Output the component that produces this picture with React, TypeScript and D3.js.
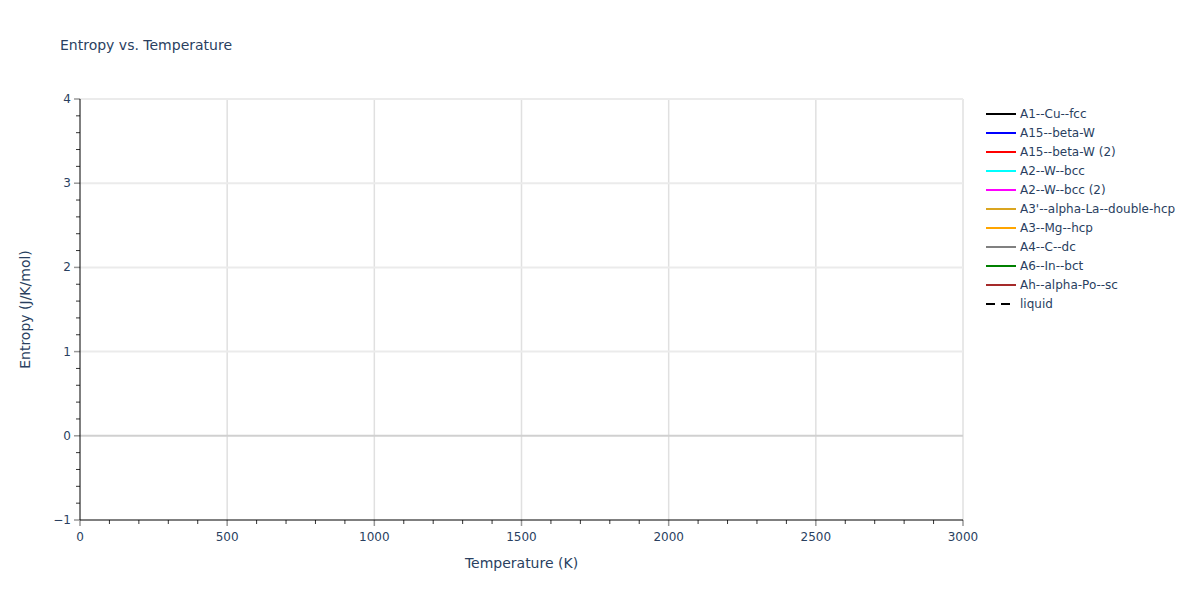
import React, { useRef, useEffect } from 'react';
import * as d3 from 'd3';

// Chart data (the reference shows no plotted values, only the legend entries)
const SERIES_NAMES = [
  'A1--Cu--fcc',
  'A15--beta-W',
  'A15--beta-W (2)',
  'A2--W--bcc',
  'A2--W--bcc (2)',
  "A3'--alpha-La--double-hcp",
  'A3--Mg--hcp',
  'A4--C--dc',
  'A6--In--bct',
  'Ah--alpha-Po--sc',
  'liquid',
];
const SERIES_COLORS = [
  'black', 'blue', 'red', 'cyan', 'magenta', 'goldenrod',
  'orange', 'gray', 'green', 'brown', 'black',
];
const SERIES_DASHED = [false, false, false, false, false, false, false, false, false, false, true];
const TEMPERATURES: number[] = [];
const ENTROPY_VALUES: number[][] = SERIES_NAMES.map(() => []);

const X_DOMAIN = [0, 3000];
const Y_DOMAIN = [-1, 4];
const X_TICKS = [0, 500, 1000, 1500, 2000, 2500, 3000];
const Y_TICKS = [-1, 0, 1, 2, 3, 4];

const FONT = 'Verdana, "DejaVu Sans", sans-serif';
const TEXT_COLOR = '#2a3f5f';

const App: React.FC = () => {
  const ref = useRef<SVGSVGElement>(null);
  const width = 1200;
  const height = 600;
  const margin = { left: 80, right: 237, top: 99, bottom: 80 };

  useEffect(() => {
    if (!ref.current) return;
    const svg = d3.select(ref.current);
    svg.selectAll('*').remove();

    const x = d3.scaleLinear().domain(X_DOMAIN).range([margin.left, width - margin.right]);
    const y = d3.scaleLinear().domain(Y_DOMAIN).range([height - margin.bottom, margin.top]);

    svg.append('rect').attr('width', width).attr('height', height).attr('fill', 'white');

    // Grid
    const grid = svg.append('g');
    grid.selectAll('.vgrid')
      .data(X_TICKS.slice(1))
      .join('line')
      .attr('x1', d => x(d)).attr('x2', d => x(d))
      .attr('y1', y(Y_DOMAIN[0])).attr('y2', y(Y_DOMAIN[1]))
      .attr('stroke', '#e0e0e0').attr('stroke-width', 1.5);
    grid.selectAll('.hgrid')
      .data(Y_TICKS.filter(t => t !== 0 && t !== Y_DOMAIN[0]))
      .join('line')
      .attr('x1', x(X_DOMAIN[0])).attr('x2', x(X_DOMAIN[1]))
      .attr('y1', d => y(d)).attr('y2', d => y(d))
      .attr('stroke', '#ebebeb').attr('stroke-width', 2);
    // Zero line
    grid.append('line')
      .attr('x1', x(X_DOMAIN[0])).attr('x2', x(X_DOMAIN[1]))
      .attr('y1', y(0)).attr('y2', y(0))
      .attr('stroke', '#d0d0d0').attr('stroke-width', 2);

    // Series lines
    const line = d3.line<number>()
      .x((_, i) => x(TEMPERATURES[i]))
      .y(d => y(d));
    svg.append('g').selectAll('path')
      .data(ENTROPY_VALUES)
      .join('path')
      .attr('d', d => (d.length ? line(d) : null))
      .attr('fill', 'none')
      .attr('stroke', (_, i) => SERIES_COLORS[i])
      .attr('stroke-width', 2)
      .attr('stroke-dasharray', (_, i) => (SERIES_DASHED[i] ? '9,6' : null));

    // Minor ticks
    const xMinor = d3.range(X_DOMAIN[0], X_DOMAIN[1] + 1, 100).filter(v => v % 500 !== 0);
    const yMinor = d3.range(Y_DOMAIN[0], Y_DOMAIN[1] + 0.01, 0.2)
      .filter(v => Math.abs(v - Math.round(v)) > 0.01);
    const axisG = svg.append('g');
    axisG.selectAll('.xminor')
      .data(xMinor)
      .join('line')
      .attr('x1', d => x(d)).attr('x2', d => x(d))
      .attr('y1', y(Y_DOMAIN[0])).attr('y2', y(Y_DOMAIN[0]) + 4)
      .attr('stroke', '#333').attr('stroke-width', 1);
    axisG.selectAll('.yminor')
      .data(yMinor)
      .join('line')
      .attr('x1', x(X_DOMAIN[0]) - 4).attr('x2', x(X_DOMAIN[0]))
      .attr('y1', d => y(d)).attr('y2', d => y(d))
      .attr('stroke', '#333').attr('stroke-width', 1);

    // Major ticks
    axisG.selectAll('.xmajor')
      .data(X_TICKS)
      .join('line')
      .attr('x1', d => x(d)).attr('x2', d => x(d))
      .attr('y1', y(Y_DOMAIN[0])).attr('y2', y(Y_DOMAIN[0]) + 6)
      .attr('stroke', '#999').attr('stroke-width', 1.5);
    axisG.selectAll('.ymajor')
      .data(Y_TICKS)
      .join('line')
      .attr('x1', x(X_DOMAIN[0]) - 6).attr('x2', x(X_DOMAIN[0]))
      .attr('y1', d => y(d)).attr('y2', d => y(d))
      .attr('stroke', '#999').attr('stroke-width', 1.5);

    // Axis lines
    axisG.append('line')
      .attr('x1', x(X_DOMAIN[0])).attr('x2', x(X_DOMAIN[1]))
      .attr('y1', y(Y_DOMAIN[0])).attr('y2', y(Y_DOMAIN[0]))
      .attr('stroke', 'black').attr('stroke-width', 1);
    axisG.append('line')
      .attr('x1', x(X_DOMAIN[0])).attr('x2', x(X_DOMAIN[0]))
      .attr('y1', y(Y_DOMAIN[0])).attr('y2', y(Y_DOMAIN[1]))
      .attr('stroke', 'black').attr('stroke-width', 1);

    // Tick labels
    axisG.selectAll('.xlabel')
      .data(X_TICKS)
      .join('text')
      .attr('x', d => x(d))
      .attr('y', y(Y_DOMAIN[0]) + 21)
      .attr('text-anchor', 'middle')
      .attr('font-family', FONT).attr('font-size', 12).attr('fill', TEXT_COLOR)
      .text(d => String(d));
    axisG.selectAll('.ylabel')
      .data(Y_TICKS)
      .join('text')
      .attr('x', x(X_DOMAIN[0]) - 9)
      .attr('y', d => y(d) + 4)
      .attr('text-anchor', 'end')
      .attr('font-family', FONT).attr('font-size', 12).attr('fill', TEXT_COLOR)
      .text(d => (d < 0 ? '\u2212' + Math.abs(d) : String(d)));

    // Axis titles
    svg.append('text')
      .attr('x', (x(X_DOMAIN[0]) + x(X_DOMAIN[1])) / 2)
      .attr('y', 568)
      .attr('text-anchor', 'middle')
      .attr('font-family', FONT).attr('font-size', 14).attr('fill', TEXT_COLOR)
      .text('Temperature (K)');
    svg.append('text')
      .attr('transform', `translate(30, ${(y(Y_DOMAIN[0]) + y(Y_DOMAIN[1])) / 2}) rotate(-90)`)
      .attr('text-anchor', 'middle')
      .attr('font-family', FONT).attr('font-size', 14).attr('fill', TEXT_COLOR)
      .text('Entropy (J/K/mol)');

    // Title
    svg.append('text')
      .attr('x', 60).attr('y', 50)
      .attr('font-family', FONT).attr('font-size', 14).attr('fill', TEXT_COLOR)
      .text('Entropy vs. Temperature');

    // Legend
    const legend = svg.append('g').attr('transform', 'translate(986, 114)');
    const items = legend.selectAll('g')
      .data(SERIES_NAMES)
      .join('g')
      .attr('transform', (_, i) => `translate(0, ${i * 19})`);
    items.append('line')
      .attr('x1', 0).attr('x2', 30).attr('y1', 0).attr('y2', 0)
      .attr('stroke', (_, i) => SERIES_COLORS[i])
      .attr('stroke-width', 2)
      .attr('stroke-dasharray', (_, i) => (SERIES_DASHED[i] ? '9,6' : null));
    items.append('text')
      .attr('x', 34).attr('y', 4)
      .attr('font-family', FONT).attr('font-size', 12).attr('fill', TEXT_COLOR)
      .text(d => d);
  }, []);

  return (
    <svg
      ref={ref}
      width={width}
      height={height}
      style={{ position: 'absolute', left: 0, top: 0 }}
    />
  );
};

export default App;
